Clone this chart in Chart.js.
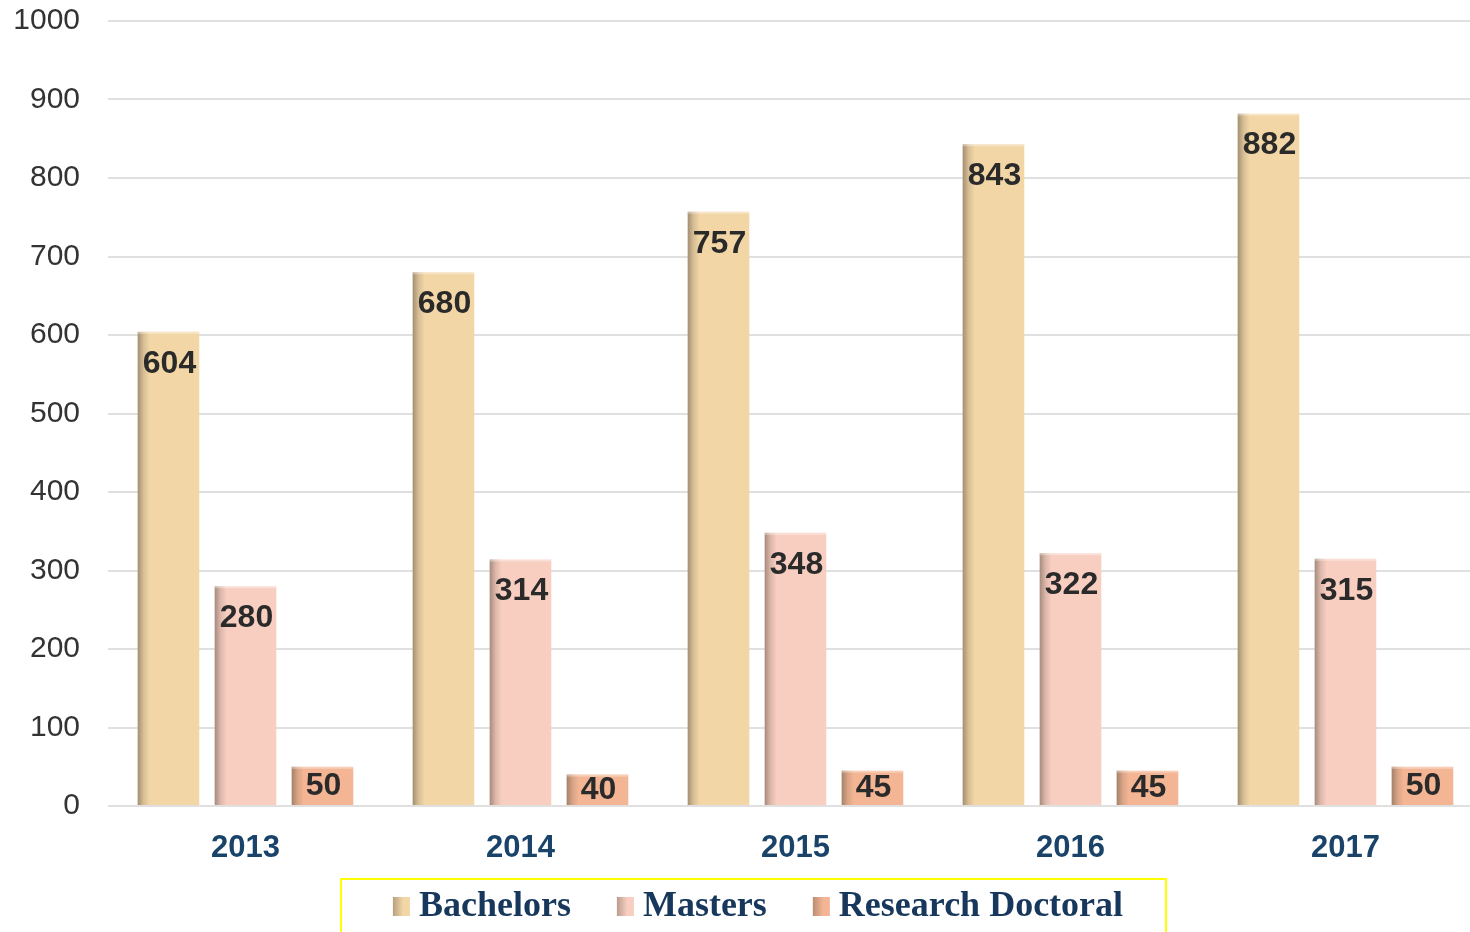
<!DOCTYPE html>
<html>
<head>
<meta charset="utf-8">
<script src="https://cdn.jsdelivr.net/npm/chart.js@4/dist/chart.umd.min.js"></script>
<style>
    html, body { margin: 0; padding: 0; background: #fff; overflow: hidden; }
    #wrap { width: 1500px; height: 932px; }
</style>
</head>
<body>
<div id="wrap"><canvas id="barChart" width="1500" height="932"></canvas></div>
<script>
    // Chart data
    const years = ["2013", "2014", "2015", "2016", "2017"];
    const bachelors = [604, 680, 757, 843, 882];
    const masters = [280, 314, 348, 322, 315];
    const doctoral = [50, 40, 45, 45, 50];
    const yTicks = [0, 100, 200, 300, 400, 500, 600, 700, 800, 900, 1000];

    const COLORS = {
        bachelors: "rgb(242, 214, 166)",
        masters: "rgb(248, 206, 193)",
        doctoral: "rgb(243, 181, 147)",
    };

    // Shades the left edge of every bar, then writes the value labels
    const barLabels = {
        id: "barLabels",
        afterDatasetsDraw(chart) {
            const ctx = chart.ctx;
            ctx.save();
            chart.data.datasets.forEach((ds, i) => {
                const meta = chart.getDatasetMeta(i);
                meta.data.forEach((bar) => {
                    const left = bar.x - bar.width / 2;
                    const g = ctx.createLinearGradient(left, 0, left + 12, 0);
                    g.addColorStop(0, "rgba(110, 95, 80, 0.6)");
                    g.addColorStop(0.5, "rgba(110, 95, 80, 0.2)");
                    g.addColorStop(1, "rgba(110, 95, 80, 0)");
                    ctx.fillStyle = g;
                    ctx.fillRect(left, bar.y, 12, bar.base - bar.y);
                    // thin light rim on top
                    ctx.fillStyle = "rgba(255, 255, 255, 0.35)";
                    ctx.fillRect(left, bar.y, bar.width, 2);
                });
            });
            ctx.font = "bold 32px 'Liberation Sans', Arial, sans-serif";
            ctx.fillStyle = "#2a2a2a";
            ctx.textAlign = "center";
            ctx.textBaseline = "middle";
            chart.data.datasets.forEach((ds, i) => {
                const meta = chart.getDatasetMeta(i);
                meta.data.forEach((bar, j) => {
                    const y = Math.min(bar.y + 32, (bar.y + bar.base) / 2);
                    ctx.fillText(ds.data[j], bar.x + 1, y);
                });
            });
            ctx.restore();
        },
    };

    // Legend with the yellow frame
    const frameLegend = {
        id: "frameLegend",
        afterDraw(chart) {
            const ctx = chart.ctx;
            ctx.save();
            ctx.font = "bold 36px 'Liberation Serif', 'Times New Roman', serif";
            const items = chart.data.datasets.map((ds) => ({
                label: ds.label,
                color: ds.backgroundColor,
                w: ctx.measureText(ds.label).width,
            }));
            const boxW = 17, boxGap = 9, itemGap = 46;
            let total = 0;
            items.forEach((it, k) => {
                total += boxW + boxGap + it.w + (k < items.length - 1 ? itemGap : 0);
            });
            let x = 758 - total / 2;
            const cy = 906;
            ctx.strokeStyle = "#ffff00";
            ctx.lineWidth = 2;
            ctx.strokeRect(341, 879, 825, 80);
            ctx.textBaseline = "middle";
            ctx.textAlign = "left";
            items.forEach((it) => {
                ctx.fillStyle = it.color;
                ctx.fillRect(x, cy - 9, boxW, 19);
                const g = ctx.createLinearGradient(x, 0, x + boxW, 0);
                g.addColorStop(0, "rgba(110, 95, 80, 0.45)");
                g.addColorStop(0.6, "rgba(110, 95, 80, 0)");
                ctx.fillStyle = g;
                ctx.fillRect(x, cy - 9, boxW, 19);
                ctx.fillStyle = "#17385c";
                ctx.fillText(it.label, x + boxW + boxGap, cy + 1);
                x += boxW + boxGap + it.w + itemGap;
            });
            ctx.restore();
        },
    };

    const CHART = document.getElementById("barChart");
    const chart = new Chart(CHART, {
        type: "bar",
        data: {
            labels: years,
            datasets: [
                { label: "Bachelors", data: bachelors, backgroundColor: COLORS.bachelors },
                { label: "Masters", data: masters, backgroundColor: COLORS.masters },
                { label: "Research Doctoral", data: doctoral, backgroundColor: COLORS.doctoral },
            ],
        },
        options: {
            responsive: false,
            animation: false,
            categoryPercentage: 0.84,
            barPercentage: 0.8,
            layout: { padding: { top: 0, right: 17, left: 0, bottom: 0 } },
            plugins: {
                legend: { display: false },
                tooltip: { enabled: false },
            },
            scales: {
                x: {
                    grid: { display: false, drawTicks: false },
                    border: { display: false },
                    ticks: {
                        padding: 24,
                        color: "#1a4369",
                        font: { family: "'Liberation Sans', Arial, sans-serif", size: 31, weight: "bold" },
                    },
                    afterFit(scale) { scale.height = 126; },
                },
                y: {
                    min: 0,
                    max: 1000,
                    afterBuildTicks(scale) { scale.ticks = yTicks.map((v) => ({ value: v })); },
                    grid: { color: "#e0e0e0", lineWidth: 2, drawTicks: false },
                    border: { display: false },
                    ticks: {
                        padding: 28,
                        color: "#333333",
                        font: { family: "'Liberation Sans', Arial, sans-serif", size: 30 },
                        callback: (value) => String(value),
                    },
                    afterFit(scale) {
                        scale.width = 108;
                        scale.paddingTop = 21;
                        scale.paddingBottom = 0;
                    },
                },
            },
        },
        plugins: [barLabels, frameLegend],
    });
</script>
</body>
</html>
